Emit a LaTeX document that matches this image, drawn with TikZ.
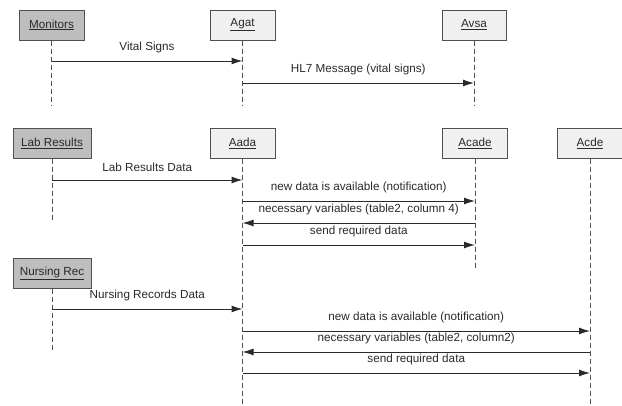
\documentclass[tikz,border=0pt]{standalone}
\usepackage{fontspec}
\setmainfont{Liberation Sans}
\usetikzlibrary{arrows.meta}
\definecolor{darkfill}{HTML}{BEBEBE}
\definecolor{lightfill}{HTML}{F0F0F0}
\definecolor{edge}{HTML}{505050}
\definecolor{ink}{HTML}{2A2A2A}
\begin{document}
\begin{tikzpicture}[x=1pt,y=-1pt,
  every node/.style={font=\fontsize{11.7}{14}\selectfont, text=ink},
  actor/.style={draw=edge, line width=1pt, minimum height=30pt, inner sep=0pt, fill=lightfill},
  ext/.style={actor, fill=darkfill},
  life/.style={draw=edge, line width=0.9pt, dash pattern=on 5pt off 3pt},
  msg/.style={draw=ink, line width=1pt, -{Latex[length=11pt,width=7pt]}},
  lbl/.style={inner sep=1pt}]
\useasboundingbox[fill=white] (0,0) rectangle (622,405);

% Row 1
\node[ext, minimum width=65pt] (monitors) at (51.5,25) {\underline{Monitors}};
\node[actor, minimum width=65pt] (agat) at (242.5,25) {\underline{Agat}};
\node[actor, minimum width=64pt] (avsa) at (474,25) {\underline{Avsa}};
\coordinate (monEnd) at (51.5,105);
\coordinate (agatEnd) at (242.5,105);
\coordinate (avsaEnd) at (474,105);
\draw[life] (monitors.south) -- (monEnd);
\draw[life] (agat.south) -- (agatEnd);
\draw[life] (avsa.south) -- (avsaEnd);
\draw[msg] (monitors.south |- 0,61) -- node[lbl, above=7pt] {Vital Signs} (agat.south |- 0,61);
\draw[msg] (agat.south |- 0,83) -- node[lbl, above=7pt] {HL7 Message (vital signs)} (avsa.south |- 0,83);

% Row 2
\node[ext, minimum width=78pt] (lab) at (52,143.5) {\underline{Lab Results}};
\node[actor, minimum width=65pt] (aada) at (242.5,143.5) {\underline{Aada}};
\node[actor, minimum width=65pt] (acade) at (475,143.5) {\underline{Acade}};
\node[actor, minimum width=65pt] (acde) at (590,143.5) {\underline{Acde}};
\coordinate (labEnd) at (52,222);
\coordinate (aadaEnd) at (242.5,405);
\coordinate (acadeEnd) at (475,270);
\coordinate (acdeEnd) at (590,405);
\draw[life] (lab.south) -- (labEnd);
\draw[life] (aada.south) -- (aadaEnd);
\draw[life] (acade.south) -- (acadeEnd);
\draw[life] (acde.south) -- (acdeEnd);
\draw[msg] (lab.south |- 0,180) -- node[lbl, above=7pt] {Lab Results Data} (aada.south |- 0,180);
\draw[msg] (aada.south |- 0,201) -- node[lbl, above=7pt] {new data is available (notification)} (acade.south |- 0,201);
\draw[msg] (acade.south |- 0,223) -- node[lbl, above=7pt] {necessary variables (table2, column 4)} (aada.south |- 0,223);
\draw[msg] (aada.south |- 0,245) -- node[lbl, above=7pt] {send required data} (acade.south |- 0,245);

% Row 3
\node[ext, minimum width=78pt, minimum height=30pt] (nurs) at (52,273) {\underline{Nursing Rec}};
\coordinate (nursEnd) at (52,350);
\draw[life] (nurs.south) -- (nursEnd);
\draw[msg] (nurs.south |- 0,309) -- node[lbl, above=7pt] {Nursing Records Data} (aada.south |- 0,309);
\draw[msg] (aada.south |- 0,331) -- node[lbl, above=7pt] {new data is available (notification)} (acde.south |- 0,331);
\draw[msg] (acde.south |- 0,352) -- node[lbl, above=7pt] {necessary variables (table2, column2)} (aada.south |- 0,352);
\draw[msg] (aada.south |- 0,373) -- node[lbl, above=7pt] {send required data} (acde.south |- 0,373);
\end{tikzpicture}
\end{document}
